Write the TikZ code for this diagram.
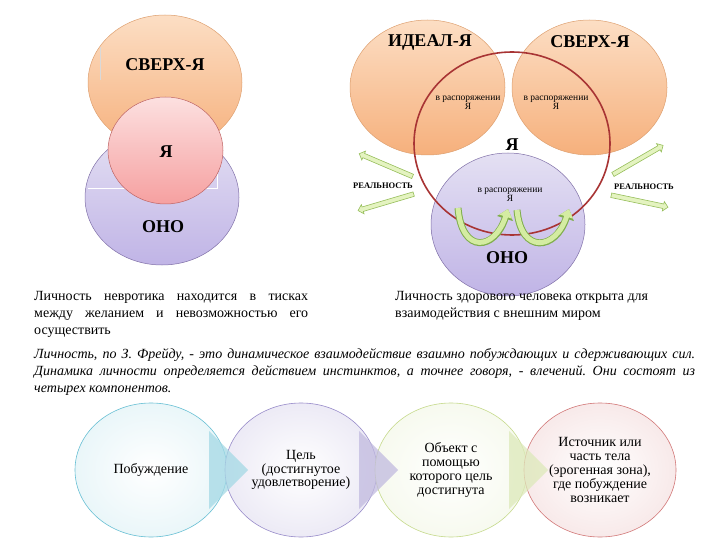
\documentclass[tikz,border=0pt]{standalone}
\usepackage{fontspec}
\setmainfont{Liberation Serif}
\usetikzlibrary{arrows.meta,positioning,shapes.geometric,shapes.arrows}
\definecolor{peachtop}{RGB}{252,222,196}
\definecolor{peachbot}{RGB}{246,176,124}
\definecolor{peachline}{RGB}{222,160,112}
\definecolor{lilactop}{RGB}{228,224,243}
\definecolor{lilacbot}{RGB}{192,180,230}
\definecolor{lilacline}{RGB}{128,112,168}
\definecolor{rosetop}{RGB}{252,224,224}
\definecolor{rosebot}{RGB}{246,160,160}
\definecolor{roseline}{RGB}{190,100,100}
\definecolor{egored}{RGB}{168,52,52}
\definecolor{reallight}{RGB}{228,243,192}
\definecolor{realline}{RGB}{150,190,90}
\definecolor{curvdark}{RGB}{128,174,78}
\definecolor{curvlight}{RGB}{212,236,162}
\definecolor{cycblue}{RGB}{104,192,212}
\definecolor{cycpurple}{RGB}{152,140,202}
\definecolor{cycgreen}{RGB}{198,218,140}
\definecolor{cycred}{RGB}{210,120,120}
\frenchspacing

\begin{document}
\begin{tikzpicture}[x=1pt,y=-1pt,every node/.style={font=\fontsize{14}{17}\selectfont},
  blob/.style={ellipse,inner sep=0pt,line width=0.5pt},
  superego/.style={blob,draw=peachline,top color=peachtop,bottom color=peachbot},
  idblob/.style={blob,draw=lilacline,top color=lilactop,bottom color=lilacbot},
  title/.style={font=\fontsize{18}{20}\selectfont\bfseries},
  disposal/.style={font=\fontsize{9.5}{9.5}\selectfont,align=center,inner sep=0pt},
  realtext/.style={font=\fontsize{8.5}{10}\selectfont\bfseries,inner sep=0pt},
  reality/.style={single arrow,draw=realline,fill=reallight,line width=0.6pt,inner sep=2pt,single arrow head extend=2.5pt,minimum width=0pt,minimum height=58pt},
  curvarr/.style={line width=5pt,draw=curvlight,-{Triangle[length=8pt,width=13pt]},preaction={draw=curvdark,line width=7pt,-{Triangle[length=10pt,width=16pt]}}},
  stage/.style={ellipse,inner sep=0pt,minimum width=152pt,minimum height=134pt,line width=0.6pt,align=center,font=\fontsize{14}{13.8}\selectfont},
  para/.style={anchor=north west,inner sep=0pt,align=justify}]
  \path[use as bounding box,fill=white] (0,0) rectangle (720,540);

  \node[superego,minimum width=154pt,minimum height=135pt] (sup1) at (165,82.5) {};
  \node[idblob,minimum width=154pt,minimum height=135pt] (id1) at (162,197.5) {};
  \draw[white!70!gray,line width=0.6pt] (100,47) -- (100,80);
  \draw[white,line width=0.8pt] (88,188) -- (217,188) -- (217,172);
  \node[blob,draw=roseline,top color=rosetop,bottom color=rosebot,minimum width=115pt,minimum height=107pt] (ego1) at (165.5,150.5) {};
  \node[title] (sup1t) at (165,65) {СВЕРХ-Я};
  \node[title] (ego1t) at (166,152) {Я};
  \node[title] (id1t) at (163,227) {ОНО};

  \node[superego,minimum width=155pt,minimum height=135pt] (ideal) at (427.5,87.5) {};
  \node[superego,minimum width=155pt,minimum height=135pt] (sup2) at (589.5,87.5) {};
  \node[idblob,minimum width=154pt,minimum height=143pt] (id2) at (508,224.5) {};
  \node[ellipse,draw=egored,line width=1.6pt,inner sep=0pt,minimum width=196pt,minimum height=183pt] (ego2) at (512,143.5) {};
  \draw[curvarr] (458,208) .. controls (462,255) and (495,250) .. (508,209);
  \draw[curvarr] (517,210) .. controls (521,255) and (556,250) .. (569,209);
  \node[reality,rotate=156.9] (realL1) at (387,165.5) {};
  \node[reality,rotate=196.5] (realL2) at (387,202) {};
  \node[reality,rotate=30.1] (realR1) at (637,160.5) {};
  \node[reality,rotate=-11.9] (realR2) at (638.5,201) {};
  \node[title] (idealt) at (430,42) {ИДЕАЛ-Я};
  \node[title] (sup2t) at (590,42) {СВЕРХ-Я};
  \node[title] (ego2t) at (512,145) {Я};
  \node[title] (id2t) at (507,258) {ОНО};
  \node[disposal] (disp1) at (468,103) {в распоряжении\\Я};
  \node[disposal] (disp2) at (556,103) {в распоряжении\\Я};
  \node[disposal] (disp3) at (510,195) {в распоряжении\\Я};
  \node[realtext] (realLt) at (383,186) {РЕАЛЬНОСТЬ};
  \node[realtext] (realRt) at (644,187) {РЕАЛЬНОСТЬ};

  \node[para,text width=274pt] (neurotic) at (34,291) {Личность невротика находится в тисках\linebreak между желанием и невозможностью его\linebreak осуществить};
  \node[para,align=left] (healthy) at (395,291) {Личность здорового человека открыта для\\взаимодействия с внешним миром};
  \node[para,text width=661pt,font=\fontsize{14}{17}\selectfont\itshape] (freud) at (34,348) {Личность, по З. Фрейду, - это динамическое взаимодействие взаимно побуждающих и сдерживающих сил.\linebreak Динамика личности определяется действием инстинктов, а точнее говоря, - влечений. Они состоят из\linebreak четырех компонентов.};

  \node[stage,draw=cycblue,inner color=white,outer color=cycblue!14] (urge) at (151,470) {Побуждение};
  \node[stage,draw=cycpurple,inner color=white,outer color=cycpurple!18] (aim) at (301,470) {Цель\\(достигнутое\\удовлетворение)};
  \node[stage,draw=cycgreen,inner color=white,outer color=cycgreen!14] (object) at (451,470) {Объект с\\помощью\\которого цель\\достигнута};
  \node[stage,draw=cycred,inner color=white,outer color=cycred!16] (source) at (600,470) {Источник или\\часть тела\\(эрогенная зона),\\где побуждение\\возникает};
  \foreach \cx/\col in {151/cycblue,301/cycpurple,451/cycgreen}{\fill[\col!60,opacity=0.75] (\cx+58,431) -- (\cx+58,509) -- (\cx+97,470) -- cycle;}
\end{tikzpicture}
\end{document}
